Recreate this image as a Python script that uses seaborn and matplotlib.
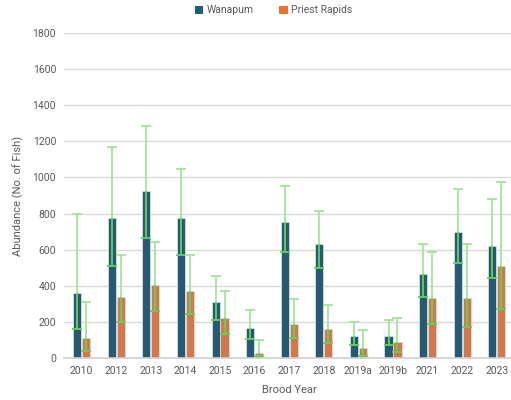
import numpy as np
import pandas as pd
import seaborn as sns
from matplotlib import pyplot as plt
from matplotlib.patches import Patch

years = ['2010', '2012', '2013', '2014', '2015', '2016', '2017', '2018',
         '2019a', '2019b', '2021', '2022', '2023']

wanapum = [358, 774, 923, 774, 309, 166, 751, 633, 122, 122, 467, 698, 622]
wanapum_lo = [159, 510, 666, 572, 210, 103, 587, 497, 70, 70, 340, 528, 441]
wanapum_hi = [796, 1171, 1285, 1047, 452, 264, 953, 816, 201, 209, 633, 934, 879]

priest = [113, 336, 404, 369, 223, 26, 188, 159, 53, 87, 334, 331, 511]
priest_lo = [41, 198, 260, 242, 133, 11, 109, 83, 13, 31, 188, 170, 271]
priest_hi = [309, 572, 641, 572, 371, 98, 327, 295, 153, 220, 589, 633, 973]

sites = ['Wanapum', 'Priest Rapids']
colors = ['#1B5E7E', '#E97132']

df = pd.DataFrame({
    'year': years * 2,
    'site': [sites[0]] * len(years) + [sites[1]] * len(years),
    'abundance': wanapum + priest,
})

sns.set_style("white")
plt.rcParams['font.family'] = ['Roboto', 'DejaVu Sans']
txt = '#595959'
light_g = '#A3E49A'
dark_g = '#5FD35A'

fig = plt.figure(figsize=(5.11, 4.0), dpi=100)
ax = fig.add_axes([0.126, 0.105, 0.88, 0.8125])

sns.barplot(data=df, x='year', y='abundance', hue='site', order=years,
            hue_order=sites, palette=colors, width=0.52, gap=0.1,
            edgecolor='#D6DEE6', linewidth=0.6, legend=False, ax=ax)

# error bars: upper part light green, lower part darker green
errs = [(wanapum, wanapum_lo, wanapum_hi), (priest, priest_lo, priest_hi)]
for cont, (vals, lo, hi) in zip(ax.containers, errs):
    xs = [p.get_x() + p.get_width() / 2 for p in cont.patches]
    ax.vlines(xs, vals, hi, color=light_g, linewidth=1.3, zorder=4)
    ax.vlines(xs, lo, vals, color=dark_g, linewidth=1.3, zorder=4)
    ax.plot(xs, hi, ls='none', marker='_', ms=6.5, mew=1.3, color=light_g, zorder=4)
    ax.plot(xs, lo, ls='none', marker='_', ms=6.5, mew=1.3, color=dark_g, zorder=4)

ax.set_ylim(0, 1800)
ax.set_xlim(-0.5, len(years) - 0.5)
ax.set_yticks(range(0, 1801, 200))
ax.yaxis.grid(True, color='#D9D9D9', linewidth=1)
ax.set_axisbelow(True)
for s in ['top', 'right', 'left']:
    ax.spines[s].set_visible(False)
ax.spines['bottom'].set_color('#D0D0D0')
ax.spines['bottom'].set_linewidth(1.2)
ax.tick_params(axis='both', length=0, labelsize=7.5, colors=txt, pad=6)

ax.set_xlabel('Brood Year', fontsize=8, color=txt, labelpad=6)
ax.set_ylabel('Abundance (No. of Fish)', fontsize=8, color=txt, labelpad=6)

handles = [Patch(facecolor=c, edgecolor='none') for c in colors]
fig.legend(handles, sites, loc='upper center', bbox_to_anchor=(0.535, 1.01),
           ncol=2, frameon=False, fontsize=7.5, labelcolor=txt,
           handlelength=0.8, handleheight=0.8, handletextpad=0.3,
           columnspacing=2.5)

plt.savefig('out.png', dpi=100)
